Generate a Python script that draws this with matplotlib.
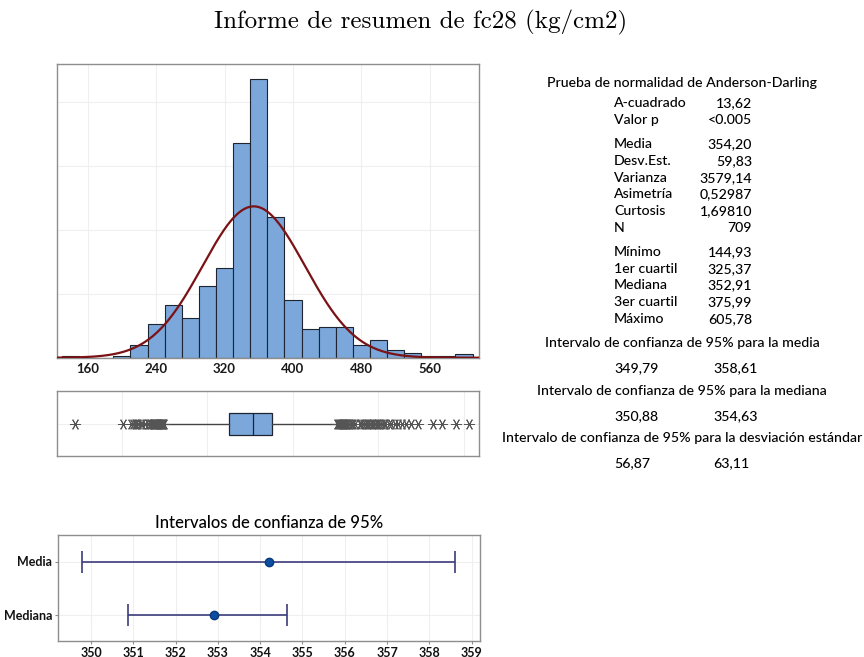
import numpy as np
import matplotlib
matplotlib.use("Agg")
import matplotlib.pyplot as plt

# --- datos ---
bin_starts = [130, 150, 170, 190, 210, 230, 250, 270, 290, 310, 330, 350,
              370, 390, 410, 430, 450, 470, 490, 510, 530, 550, 570, 590]
counts = [1, 0, 0, 1, 8, 21, 33, 25, 45, 56, 134, 174,
          88, 36, 18, 19, 19, 8, 11, 5, 3, 1, 1, 2]
BIN_W = 20

n_obs = 709
media = 354.20
desv = 59.83
q1, mediana, q3 = 325.37, 352.91, 375.99
bigote_inf, bigote_sup = 251.0, 450.5
atipicos = [144.93, 201, 211, 213, 215, 217, 219, 222, 224, 227, 230, 231, 233,
            234, 236, 237, 238, 239, 240, 241, 242, 243, 244, 245, 246, 246.5,
            247, 248, 248.5, 249,
            452, 453, 454, 455, 456, 457, 458, 459, 460, 461, 462, 463, 465,
            466, 468, 469, 470, 472, 478, 480, 482, 484, 486, 488, 490, 492,
            494, 496, 498, 500, 502, 504, 506, 508, 512, 515, 519, 523, 527,
            532, 538, 546, 564, 574, 591, 605.78]

ic_nombres = ["Media", "Mediana"]
ic_centro = [354.20, 352.91]
ic_inf = [349.79, 350.88]
ic_sup = [358.61, 354.63]

resumen = [
    [("A-cuadrado", "13,62"), ("Valor p", "<0.005")],
    [("Media", "354,20"), ("Desv.Est.", "59,83"), ("Varianza", "3579,14"),
     ("Asimetría", "0,52987"), ("Curtosis", "1,69810"), ("N", "709")],
    [("Mínimo", "144,93"), ("1er cuartil", "325,37"), ("Mediana", "352,91"),
     ("3er cuartil", "375,99"), ("Máximo", "605,78")],
]
intervalos = [
    ("Intervalo de confianza de 95% para la media", "349,79", "358,61"),
    ("Intervalo de confianza de 95% para la mediana", "350,88", "354,63"),
    ("Intervalo de confianza de 95% para la desviación estándar", "56,87", "63,11"),
]

FUENTE = "Lato"
AZUL = "#7ba7da"
BORDE = "#8e8e8e"
REJILLA = "#efefef"

plt.rcParams["font.family"] = [FUENTE, "DejaVu Sans"]

W, H = 864, 657
fig = plt.figure(figsize=(W / 100, H / 100), dpi=100)


def px(x, y):
    return x / W, 1 - y / H


def estilo(ax):
    for s in ax.spines.values():
        s.set_color(BORDE)
        s.set_linewidth(1.0)
    ax.set_axisbelow(True)


fig.text(*px(421, 22), "Informe de resumen de fc28 (kg/cm2)", family="cmr10",
         fontsize=18, ha="center", va="center")

# histograma con curva normal
XLIM = (123.8, 617.5)
ax1 = fig.add_axes([56.7 / W, 1 - 357.7 / H, (479 - 56.7) / W, (357.7 - 64) / H])
estilo(ax1)
ax1.bar(bin_starts, counts, width=BIN_W, align="edge", color=AZUL,
        edgecolor="#1e2530", linewidth=0.8, zorder=2)
xs = np.linspace(XLIM[0], XLIM[1], 400)
curva = n_obs * BIN_W * np.exp(-0.5 * ((xs - media) / desv) ** 2) / (desv * np.sqrt(2 * np.pi))
ax1.plot(xs, curva, color="#7a1216", lw=1.6, zorder=3)
ax1.set_xlim(*XLIM)
ax1.set_ylim(0, 183.5)
ax1.set_xticks([160, 240, 320, 400, 480, 560])
ax1.set_yticks([40, 80, 120, 160])
ax1.tick_params(axis="x", length=0, pad=4, labelsize=9.5, labelcolor="#1a1a1a")
ax1.tick_params(axis="y", length=0, labelleft=False)
for lab in ax1.get_xticklabels():
    lab.set_fontweight("bold")
ax1.grid(True, color=REJILLA, lw=0.8)

# diagrama de caja
ax2 = fig.add_axes([56.7 / W, 1 - 456.3 / H, (479 - 56.7) / W, (456.3 - 391) / H])
estilo(ax2)
ax2.bxp([{"med": mediana, "q1": q1, "q3": q3, "whislo": bigote_inf,
          "whishi": bigote_sup, "fliers": atipicos}],
        vert=False, positions=[0], widths=[0.67], showcaps=False,
        patch_artist=True,
        boxprops=dict(facecolor=AZUL, edgecolor="#1e2530", linewidth=0.9),
        medianprops=dict(color="#1e2530", linewidth=0.9),
        whiskerprops=dict(color="#444444", linewidth=1.0),
        flierprops=dict(marker=(6, 2, 30), markersize=8, markeredgecolor="#555555",
                        markeredgewidth=0.7, linestyle="none"))
ax2.set_xlim(*XLIM)
ax2.set_ylim(-1, 1)
ax2.set_xticks([200, 300, 400, 500, 600])
ax2.set_yticks([0])
ax2.tick_params(length=0, labelbottom=False, labelleft=False)
ax2.grid(True, color=REJILLA, lw=0.8)

# intervalos de confianza
ax3 = fig.add_axes([57.7 / W, 1 - 641 / H, (480 - 57.7) / W, (641 - 535) / H])
estilo(ax3)
ypos = [1, 0]
for yv, c, lo, hi in zip(ypos, ic_centro, ic_inf, ic_sup):
    ax3.errorbar(c, yv, xerr=[[c - lo], [hi - c]], fmt="o", color="#3c3c7c",
                 ecolor="#3c3c7c", elinewidth=1.2, capsize=7.8, capthick=1.2,
                 markersize=6, markerfacecolor="#0b4ea2", markeredgecolor="#083a7a",
                 zorder=3)
ax3.set_xlim(349.21, 359.2)
ax3.set_ylim(-0.5, 1.5)
ax3.set_xticks(range(350, 360))
ax3.set_yticks(ypos)
ax3.set_yticklabels(ic_nombres)
ax3.tick_params(length=2.5, pad=1.5, color=BORDE, labelsize=9, labelcolor="#111111")
for lab in ax3.get_xticklabels() + ax3.get_yticklabels():
    lab.set_fontweight("bold")
ax3.grid(True, color=REJILLA, lw=0.8)
ax3.set_title("Intervalos de confianza de 95%", fontsize=12, fontweight="medium", pad=5)

# bloque de estadísticos
TS = 10.2
PESO = "medium"
fig.text(*px(682, 83), "Prueba de normalidad de Anderson-Darling", fontsize=TS,
         fontweight=PESO, ha="center", va="center")
y = 103.3
for grupo in resumen:
    for nombre, valor in grupo:
        fig.text(*px(614, y), nombre, fontsize=TS, fontweight=PESO, ha="left", va="center")
        fig.text(*px(752, y), valor, fontsize=TS, fontweight=PESO, ha="right", va="center")
        y += 16.7
    y += 7.6
y = 343.3
for titulo, lo, hi in intervalos:
    fig.text(*px(682, y), titulo, fontsize=TS, fontweight=PESO, ha="center", va="center")
    fig.text(*px(614, y + 25), lo, fontsize=TS, fontweight=PESO, ha="left", va="center")
    fig.text(*px(713, y + 25), hi, fontsize=TS, fontweight=PESO, ha="left", va="center")
    y += 47.5

fig.savefig("out.png", dpi=100)
